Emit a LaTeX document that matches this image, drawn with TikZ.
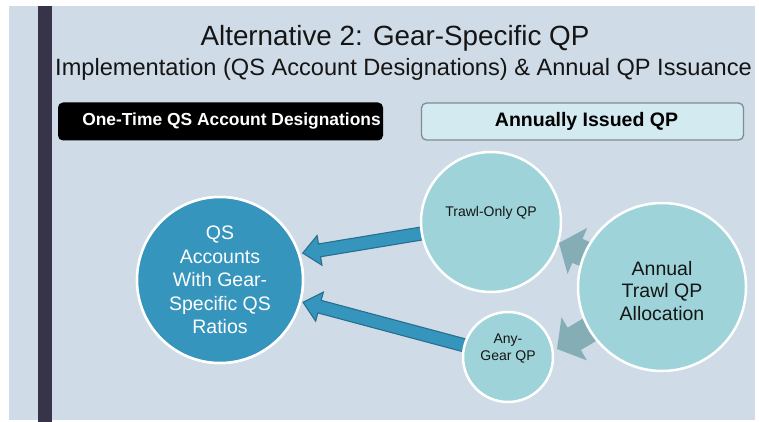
\documentclass[tikz,border=0pt]{standalone}
\usepackage{fontspec}
\setmainfont{Liberation Sans}
\usetikzlibrary{calc}
\definecolor{bgc}{HTML}{CFDBE6}
\definecolor{barc}{HTML}{37344A}
\definecolor{qsblue}{HTML}{3595BD}
\definecolor{qsline}{HTML}{286F8F}
\definecolor{tealc}{HTML}{9ED4D9}
\definecolor{grayarr}{HTML}{85ADB5}
\definecolor{lightbox}{HTML}{D4EAF1}
\definecolor{lightline}{HTML}{7C8D93}
\definecolor{txt}{HTML}{151515}
\newcommand\fatarrow[6]{%
  \path[#1] (#2) -- ($(#2)!#6!(#3)!#5!90:(#3)$) -- ($(#2)!#6!(#3)!#4!90:(#3)$)
    -- ($(#3)!#4!-90:(#2)$) -- ($(#3)!#4!90:(#2)$)
    -- ($(#2)!#6!(#3)!#4!-90:(#3)$) -- ($(#2)!#6!(#3)!#5!-90:(#3)$) -- cycle;}
\tikzset{
  bubble/.style={circle, draw=white, line width=2.5pt, inner sep=0pt, outer sep=0pt},
  bluearrow/.style={fill=qsblue, draw=qsline, line width=1.1pt, line join=miter},
  grayarrow/.style={fill=grayarr},
  headbox/.style={rounded corners=5pt, minimum height=38pt, inner sep=0pt, font=\bfseries},
}
\begin{document}
\begin{tikzpicture}[x=1pt,y=-1pt]
\useasboundingbox (0,0) rectangle (759,422);
\fill[white] (0,0) rectangle (759,422);
\fill[bgc] (9,6) rectangle (755,420);
\fill[barc] (38,6) rectangle (52,422);

\node[anchor=base, text=txt, font=\fontsize{27.8}{33}\selectfont] (title) at (395,46) {Alternative 2: Gear-Specific QP};
\node[anchor=base, text=txt, font=\fontsize{23.6}{28}\selectfont] (subtitle) at (403.5,76) {Implementation (QS Account Designations) \& Annual QP Issuance};

\node[headbox, fill=black, text=white, minimum width=325pt, font=\bfseries\fontsize{17.4}{20}\selectfont] (onetime) at (220.5,121.5) {\hspace*{22pt}One-Time QS Account Designations};
\node[headbox, fill=lightbox, draw=lightline, line width=1.3pt, text=black, minimum width=322pt, minimum height=37pt, font=\bfseries\fontsize{19.5}{22}\selectfont] (annually) at (582.5,121.5) {\hspace*{8pt}Annually Issued QP};

% circle positions (drawn later)
\coordinate (qsc) at (220,280);
\coordinate (trc) at (491,222);
\coordinate (agc) at (508,357);
\coordinate (anc) at (662,287);

\path (qsc) node[bubble, minimum size=166pt] (qs0) {};
\coordinate (tip1) at ($(qsc)!87pt!(qs0.18)$);
\coordinate (tip2) at ($(qsc)!86pt!(qs0.-15)$);
\coordinate (g1) at (559,243);
\coordinate (g2) at (557,349);

% arrows
\fatarrow{bluearrow}{tip1}{trc}{6.5pt}{15pt}{17pt}
\fatarrow{bluearrow}{tip2}{agc}{6.5pt}{15pt}{17pt}
\fatarrow{grayarrow}{g1}{anc}{13pt}{25pt}{20pt}
\fatarrow{grayarrow}{g2}{anc}{13pt}{25pt}{20pt}

% circles
\node[bubble, fill=qsblue, minimum size=166pt, text=white, align=center, font=\fontsize{19.5}{23.5}\selectfont] (qs) at (qsc) {QS\\Accounts\\With Gear-\\Specific QS\\Ratios};
\node[bubble, fill=tealc, minimum size=140pt] (trawl) at (trc) {};
\node[text=txt, font=\fontsize{14}{17}\selectfont] (trawltext) at ($(trc)+(0,-9)$) {Trawl-Only QP};
\node[bubble, fill=tealc, minimum size=90pt] (anygear) at (agc) {};
\node[text=txt, align=center, font=\fontsize{14}{17}\selectfont] (anygeartext) at ($(agc)+(0,-8)$) {Any-\\Gear QP};
\node[bubble, fill=tealc, minimum size=168pt] (annual) at (anc) {};
\node[text=txt, align=center, font=\fontsize{19.5}{22.5}\selectfont] (annualtext) at ($(anc)+(0,4)$) {Annual\\Trawl QP\\Allocation};
\end{tikzpicture}
\end{document}
